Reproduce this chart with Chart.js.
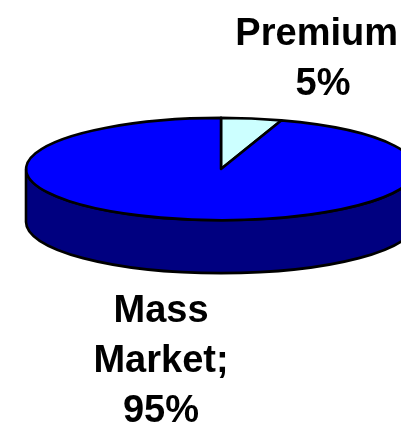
<!DOCTYPE html>
<html>
<head>
<meta charset="utf-8">
<script src="https://cdn.jsdelivr.net/npm/chart.js@4.4.1/dist/chart.umd.min.js"></script>
<style>
  html, body { margin: 0; padding: 0; background: #fff; }
  #wrap { position: relative; width: 401px; height: 424px; overflow: hidden; }
  #pie { position: absolute; left: 0; top: -26px; }
</style>
</head>
<body>
<div id="wrap"><canvas id="pie" width="440" height="450"></canvas></div>
<script>
const segments = ['Premium', 'Mass Market'];
const shares = [5, 95];
const topColors = ['#CCFFFF', '#0000FF'];
const sideColors = ['#88B8B8', '#000080'];

// flat pie from Chart.js, re-drawn as a tilted disc with a front wall
const pie3d = {
  id: 'pie3d',
  beforeDatasetsDraw(chart, args, opts) {
    const ctx = chart.ctx;
    const arcs = chart.getDatasetMeta(0).data;
    if (!arcs.length) return false;
    const cx = arcs[0].x, cy = arcs[0].y;
    const rx = arcs[0].outerRadius, ry = rx * opts.tilt, d = opts.depth;
    ctx.save();
    ctx.lineWidth = opts.lineWidth;
    ctx.strokeStyle = '#000';
    ctx.lineJoin = 'round';

    // walls: only the part of each slice facing the viewer (0..PI)
    arcs.forEach((a, i) => {
      [0, 2 * Math.PI].forEach(shift => {
        const s = Math.max(a.startAngle, shift);
        const e = Math.min(a.endAngle, shift + Math.PI);
        if (e <= s) return;
        ctx.beginPath();
        ctx.ellipse(cx, cy, rx, ry, 0, s, e);
        ctx.ellipse(cx, cy + d, rx, ry, 0, e, s, true);
        ctx.closePath();
        ctx.fillStyle = sideColors[i];
        ctx.fill();
        ctx.stroke();
      });
    });

    // top faces
    arcs.forEach((a, i) => {
      ctx.beginPath();
      ctx.moveTo(cx, cy);
      ctx.ellipse(cx, cy, rx, ry, 0, a.startAngle, a.endAngle);
      ctx.closePath();
      ctx.fillStyle = topColors[i];
      ctx.fill();
      ctx.stroke();
    });
    ctx.restore();
    return false;
  },
  afterDraw(chart, args, opts) {
    const ctx = chart.ctx;
    ctx.save();
    // labels are cut off at the right edge of the chart frame
    ctx.beginPath();
    ctx.rect(0, 0, opts.clipRight, chart.height);
    ctx.clip();
    ctx.font = `bold ${opts.fontSize}px "Liberation Sans", Arial, sans-serif`;
    ctx.textAlign = 'center';
    ctx.textBaseline = 'alphabetic';
    ctx.fillStyle = '#000';
    segments.forEach((name, i) => {
      const words = name.split(' ');
      words[words.length - 1] += ';';
      const lines = [...words, shares[i] + '%'];
      const p = opts.anchors[i];
      lines.forEach((t, k) => ctx.fillText(t, p.x, p.y + k * opts.lineHeight));
    });
    ctx.restore();
  }
};

new Chart(document.getElementById('pie'), {
  type: 'pie',
  data: {
    labels: segments,
    datasets: [{ data: shares, backgroundColor: topColors, borderWidth: 0 }]
  },
  options: {
    responsive: false,
    animation: false,
    events: [],
    layout: { padding: { left: 26, right: 24, top: 0, bottom: 60 } },
    plugins: {
      legend: { display: false },
      tooltip: { enabled: false },
      pie3d: {
        tilt: 0.262,
        depth: 53,
        lineWidth: 2.6,
        fontSize: 38,
        lineHeight: 50,
        clipRight: 397,
        anchors: [{ x: 323, y: 71 }, { x: 161, y: 348 }]
      }
    }
  },
  plugins: [pie3d]
});
</script>
</body>
</html>
